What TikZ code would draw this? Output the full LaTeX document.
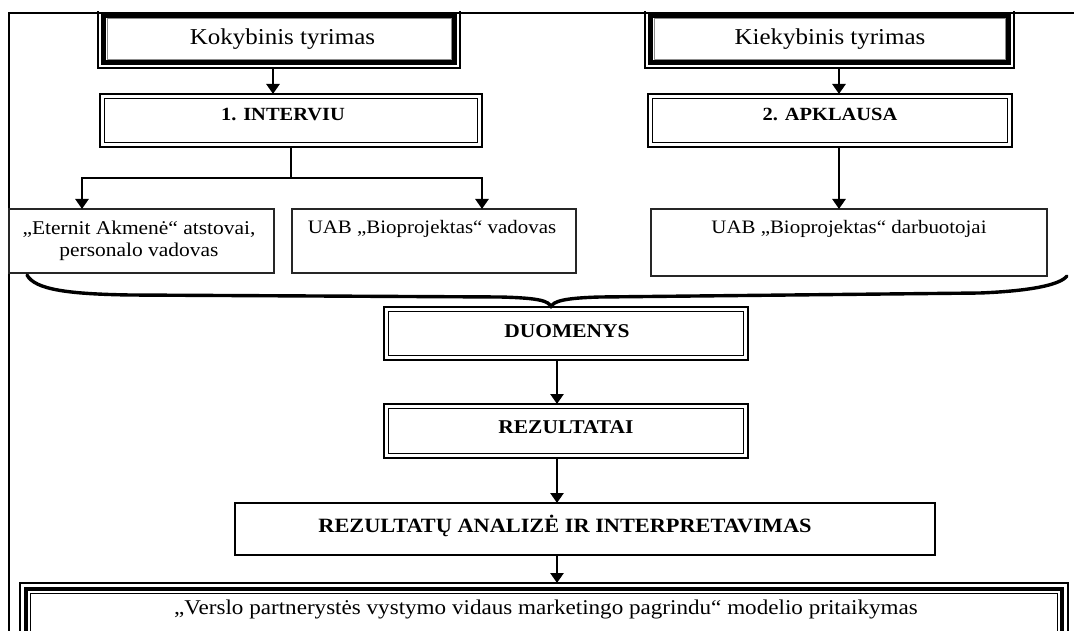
\documentclass[tikz,border=0pt]{standalone}
\usepackage{fontspec}
\setmainfont{Liberation Serif}[FakeStretch=1.1]
\usetikzlibrary{arrows.meta}

% border helpers, all drawn from the outer edge of a named node inwards
\newcommand\thickthinframe[1]{%
  \draw[line width=1.1pt] (#1.north west) rectangle (#1.south east);
  \draw[line width=5.5pt] ([shift={(5.6pt,-5.6pt)}]#1.north west) rectangle ([shift={(-5.6pt,5.6pt)}]#1.south east);
  \draw[line width=0.8pt, black!45] ([shift={(8.9pt,-8.9pt)}]#1.north west) rectangle ([shift={(-8.9pt,8.9pt)}]#1.south east);}
\newcommand\dblframe[1]{%
  \draw[line width=1.5pt] (#1.north west) rectangle (#1.south east);
  \draw[line width=1.5pt] ([shift={(4.6pt,-4.6pt)}]#1.north west) rectangle ([shift={(-4.6pt,4.6pt)}]#1.south east);}
\newcommand\tripleframe[1]{%
  \draw[line width=1.2pt] (#1.north west) rectangle (#1.south east);
  \draw[line width=3.8pt] ([shift={(6pt,-6pt)}]#1.north west) rectangle ([shift={(-6pt,6pt)}]#1.south east);
  \draw[line width=1.2pt] ([shift={(10.5pt,-10.5pt)}]#1.north west) rectangle ([shift={(-10.5pt,10.5pt)}]#1.south east);}

\begin{document}
\begin{tikzpicture}[x=1pt,y=-1pt,
  box/.style={rectangle, draw=none, inner sep=0pt, outer sep=0pt},
  plainbox/.style={box, draw=black!85, line width=1.4pt},
  heavybox/.style={box, draw=black, line width=2.6pt},
  txt/.style={inner sep=0pt, anchor=base, font=\fontsize{19}{22}\selectfont},
  bigtxt/.style={inner sep=0pt, anchor=base, font=\fontsize{22.7}{26}\selectfont},
  boldtxt/.style={inner sep=0pt, anchor=base, font=\fontsize{18.6}{22}\selectfont\bfseries},
  arr/.style={line width=2.8pt, -{Triangle[width=13pt,length=10pt]}},
  link/.style={line width=2.8pt},
  brace/.style={line width=3.4pt, line cap=round},
]
\useasboundingbox (0,0) rectangle (1074,631);
\clip (0,12) rectangle (1074,631);

% outer frame
\draw[line width=2.6pt] (9,13) rectangle (1090,700);

% top row: research types
\node[box, minimum width=362pt, minimum height=58pt] (kok) at (279,39) {};
\node[box, minimum width=369pt, minimum height=58pt] (kie) at (829.5,39) {};
\thickthinframe{kok}
\thickthinframe{kie}
\node[bigtxt] (kokT) at (282.5,44.5) {Kokybinis tyrimas};
\node[bigtxt] (kieT) at (830,44.5) {Kiekybinis tyrimas};

% methods
\node[box, minimum width=382pt, minimum height=53pt] (int) at (291,120.5) {};
\node[box, minimum width=364pt, minimum height=53pt] (apk) at (830,120.5) {};
\dblframe{int}
\dblframe{apk}
\node[boldtxt] (intT) at (283,120.5) {1. INTERVIU};
\node[boldtxt] (apkT) at (830,120.5) {2. APKLAUSA};

% respondents
\node[plainbox, minimum width=265pt, minimum height=64pt] (ete) at (141.5,241) {};
\node[plainbox, minimum width=284pt, minimum height=64pt] (uab) at (434,241) {};
\node[plainbox, minimum width=396pt, minimum height=67pt] (dar) at (849,242.5) {};
\node[inner sep=0pt, align=center, font=\fontsize{19.5}{22}\selectfont] (eteT) at (139,241)
  {„Eternit Akmenė“ atstovai,\\personalo vadovas};
\node[txt] (uabT) at (432,234) {UAB „Bioprojektas“ vadovas};
\node[txt] (darT) at (849,234) {UAB „Bioprojektas“ darbuotojai};

% data flow
\node[box, minimum width=364pt, minimum height=53pt] (duo) at (566,333.5) {};
\node[box, minimum width=364pt, minimum height=54pt] (rez) at (566,431) {};
\dblframe{duo}
\dblframe{rez}
\node[boldtxt, font=\fontsize{19.5}{22}\selectfont\bfseries] (duoT) at (567,337.5) {DUOMENYS};
\node[boldtxt, font=\fontsize{19.5}{22}\selectfont\bfseries] (rezT) at (566,433) {REZULTATAI};

\node[heavybox, minimum width=700pt, minimum height=52pt] (ana) at (585,529) {};
\node[boldtxt, font=\fontsize{20.3}{24}\selectfont\bfseries] (anaT) at (565,532) {REZULTATŲ ANALIZĖ IR INTERPRETAVIMAS};

\node[box, minimum width=1048pt, minimum height=80pt] (fin) at (544,623) {};
\tripleframe{fin}
\node[txt, font=\fontsize{21}{24}\selectfont] (finT) at (546,614)
  {„Verslo partnerystės vystymo vidaus marketingo pagrindu“ modelio pritaikymas};

% connectors
\draw[arr] ([xshift=-6pt]kok.south) -- ([xshift=-6pt]kok.south |- int.north);
\draw[arr] ([xshift=9.5pt]kie.south) -- ([xshift=9.5pt]kie.south |- apk.north);

\coordinate (hub) at (291,178);
\draw[link] (int.south) -- (hub);
\draw[arr] (hub) -| ([xshift=-59.5pt]ete.north);
\draw[arr] (hub) -| ([xshift=48pt]uab.north);
\draw[arr] ([xshift=9pt]apk.south) -- ([xshift=9pt]apk.south |- dar.north);

% brace gathering all respondents into the data box
\coordinate (bl) at (27,275);
\coordinate (br) at (1067,276);
\coordinate (tip) at ([xshift=-15pt]duo.north);
\draw[brace] (bl) .. controls (35,290) and (70,294) .. (130,295) -- (500,297)
  .. controls (540,298) and (549,301) .. (tip);
\draw[brace] (tip) .. controls (553,301) and (565,298) .. (600,297) -- (980,293)
  .. controls (1030,291) and (1060,285) .. (br);

\draw[arr] ([xshift=-9pt]duo.south) -- ([xshift=-9pt]rez.north);
\draw[arr] ([xshift=-9pt]rez.south) -- ([xshift=-9pt]rez.south |- ana.north);
\draw[arr] ([xshift=-9pt]rez.south |- ana.south) -- ([xshift=-9pt]rez.south |- fin.north);
\end{tikzpicture}
\end{document}
